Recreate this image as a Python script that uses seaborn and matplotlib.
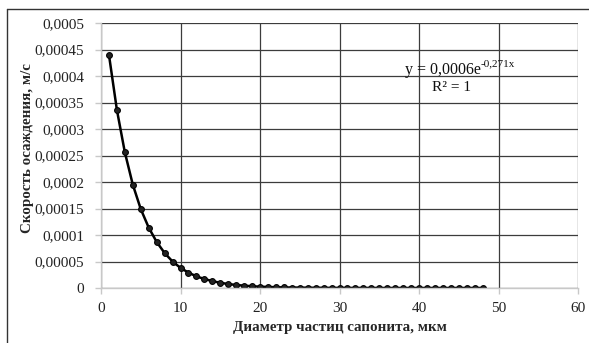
import matplotlib
matplotlib.use("Agg")
import matplotlib.pyplot as plt
import seaborn as sns
import pandas as pd
from matplotlib.lines import Line2D

# ---- data ----
diameter_um = list(range(1, 49))
velocity_ms = [
    0.000440, 0.000336, 0.000256, 0.000195, 0.000149, 0.000114, 0.000087, 0.000066,
    0.000050, 0.000038, 0.000029, 0.000022, 0.000017, 0.000013, 0.0000099, 0.0000075,
    0.0000057, 0.0000044, 0.0000033, 0.0000025, 0.0000019, 0.0000015, 0.0000011, 0.0000009,
    0.0000007, 0.0000005, 0.0000004, 0.0000003, 0.0000002, 0.0000002, 0.0000001, 0.0000001,
    0.0000001, 0.0000001, 0.0, 0.0, 0.0, 0.0, 0.0, 0.0,
    0.0, 0.0, 0.0, 0.0, 0.0, 0.0, 0.0, 0.0,
]
x_ticks = [0, 10, 20, 30, 40, 50, 60]
y_ticks = [0, 0.00005, 0.0001, 0.00015, 0.0002, 0.00025, 0.0003, 0.00035, 0.0004, 0.00045, 0.0005]
y_tick_labels = ["0", "0,00005", "0,0001", "0,00015", "0,0002", "0,00025",
                 "0,0003", "0,00035", "0,0004", "0,00045", "0,0005"]
x_label = "Диаметр частиц сапонита, мкм"
y_label = "Скорость осаждения, м/с"
equation_main = "y = 0,0006e"
equation_exp = "-0,271x"
r2_text = "R² = 1"

df = pd.DataFrame({"d": diameter_um, "v": velocity_ms})

sns.set_theme(style="white")
plt.rcParams["font.family"] = ["Liberation Serif", "DejaVu Serif"]

W, H = 589, 343
fig = plt.figure(figsize=(W / 100, H / 100), dpi=100)
ax = fig.add_axes([101 / W, (H - 288) / H, (578 - 101) / W, (288 - 23) / H])

sns.lineplot(data=df, x="d", y="v", ax=ax, color="black", linewidth=1.8,
             marker="o", markersize=4.2, markeredgecolor="black", markerfacecolor="#222222")

ax.set_xlim(0, 60)
ax.set_ylim(0, 0.0005)
ax.set_xticks(x_ticks)
ax.set_xticklabels([str(t) for t in x_ticks])
ax.set_yticks(y_ticks)
ax.set_yticklabels(y_tick_labels)

ax.grid(True, color="#3c3c3c", linewidth=0.9)
ax.set_axisbelow(True)
for side in ["top", "right"]:
    ax.spines[side].set_visible(False)
for side in ["left", "bottom"]:
    ax.spines[side].set_color("#c8c8c8")
    ax.spines[side].set_linewidth(1.0)

ax.tick_params(axis="both", which="both", length=4, width=1.0, color="#c8c8c8",
               labelsize=11, labelcolor="#222222", direction="out",
               bottom=True, left=True)
ax.tick_params(axis="y", pad=8)
ax.tick_params(axis="x", pad=6)

ax.set_xlabel(x_label, fontsize=10.8, fontweight="bold")
ax.set_ylabel(y_label, fontsize=10.8, fontweight="bold")
ax.xaxis.set_label_coords((340 - 101) / (578 - 101), -(327 - 288) / (288 - 23))
ax.yaxis.set_label_coords(-(101 - 28) / (578 - 101), (288 - 148) / (288 - 23))
ax.xaxis.label.set_verticalalignment("center")
ax.yaxis.label.set_verticalalignment("center")

# trendline equation (placed in pixel-derived axes fractions)
main = ax.text((405 - 101) / (578 - 101), (288 - 74) / (288 - 23), equation_main,
               transform=ax.transAxes, fontsize=11.5, ha="left", va="baseline",
               color="#111111")
ax.annotate(equation_exp, xy=(1.0, 0.62), xycoords=main, fontsize=8,
            ha="left", va="bottom", color="#111111")
ax.text((451 - 101) / (578 - 101), (288 - 91) / (288 - 23), r2_text,
        transform=ax.transAxes, fontsize=11, ha="center", va="baseline", color="#111111")

# outer chart border
fig.add_artist(Line2D([7 / W, 7 / W], [0, (H - 9) / H], transform=fig.transFigure,
                      color="#333333", linewidth=1.0))
fig.add_artist(Line2D([7 / W, 1.0], [(H - 9) / H, (H - 9) / H], transform=fig.transFigure,
                      color="#333333", linewidth=1.0))

fig.savefig("out.png", dpi=100)
